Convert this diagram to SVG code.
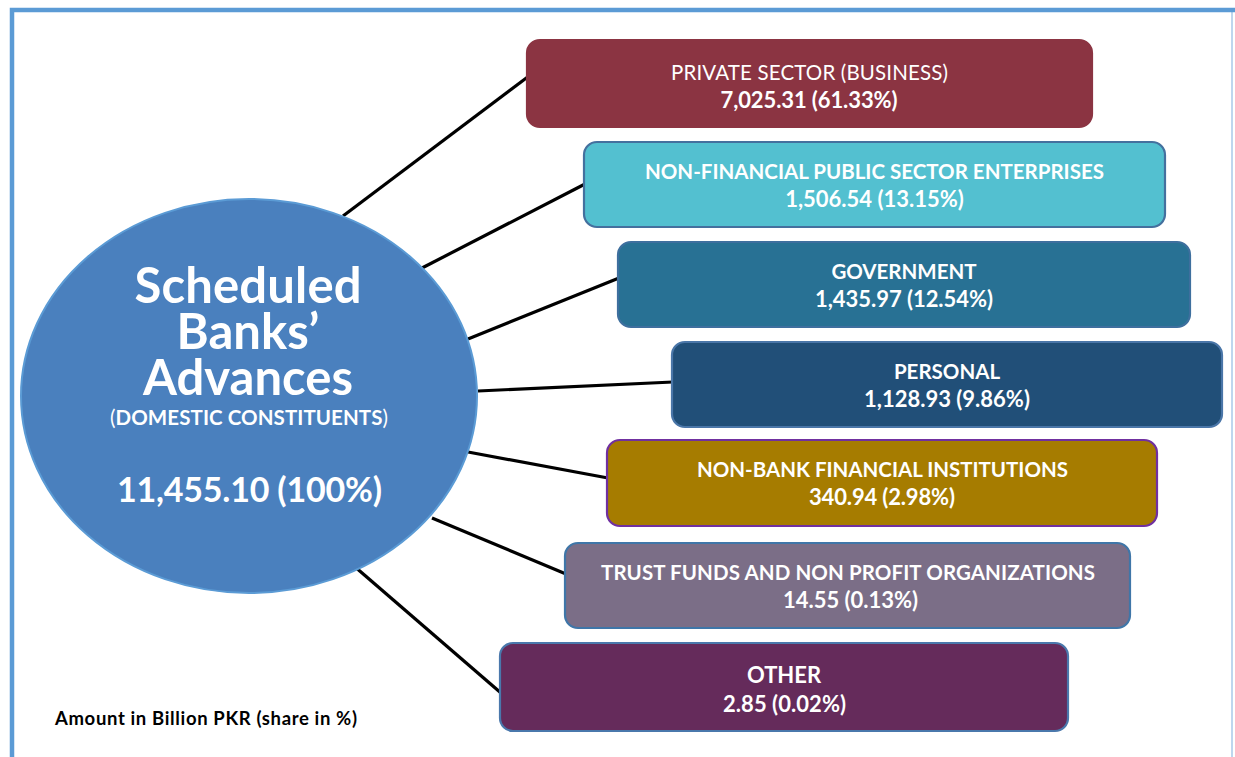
<svg xmlns="http://www.w3.org/2000/svg" width="1235" height="757" viewBox="0 0 1235 757">
<style>
  .t { font-family: Lato, "Open Sans", "Liberation Sans", sans-serif; fill: #FFFFFF; text-anchor: middle; }
  .b { font-weight: bold; }
  .lab { font-size: 20.5px; }
  .val { font-size: 22px; font-weight: bold; }
  .conn line { stroke: #000000; stroke-width: 3.2; }
  .box { stroke-width: 2.2; }
</style>
<rect x="0" y="0" width="1235" height="757" fill="#FFFFFF"/>
<g id="frame">
  <line x1="1232" y1="10" x2="1232" y2="757" stroke="#A9C8E8" stroke-width="1.5"/>
  <path d="M12 757 V10 H1235" fill="none" stroke="#5B9BD5" stroke-width="4.5"/>
</g>
<g class="conn" id="connectors">
  <line x1="343" y1="216" x2="529" y2="76"/>
  <line x1="422" y1="268" x2="585" y2="184"/>
  <line x1="468" y1="339" x2="619" y2="278"/>
  <line x1="478" y1="391" x2="673" y2="382"/>
  <line x1="468" y1="452" x2="608" y2="478"/>
  <line x1="432" y1="518" x2="566" y2="574"/>
  <line x1="354" y1="566" x2="501" y2="693"/>
</g>
<g id="center">
  <ellipse cx="249" cy="396" rx="228" ry="197" fill="#4A80BE" stroke="#5B9BD5" stroke-width="2"/>
  <text class="t b" font-size="49"><tspan x="248" y="303" textLength="227">Scheduled</tspan><tspan x="248" y="349">Banks’</tspan><tspan x="248" y="395">Advances</tspan></text>
  <text class="t" x="249" y="425" font-size="20.5" textLength="278"><tspan>(</tspan><tspan font-weight="bold">DOMESTIC CONSTITUENTS</tspan><tspan>)</tspan></text>
  <text class="t b" x="249.5" y="502" font-size="34" textLength="265">11,455.10 (100%)</text>
</g>
<g id="private">
  <rect class="box" x="527" y="40" width="565" height="87" rx="13" fill="#8B3442" stroke="#8B3442"/>
  <text class="t lab" x="809.5" y="80" textLength="277">PRIVATE SECTOR (BUSINESS)</text>
  <text class="t val" x="809" y="108" textLength="177">7,025.31 (61.33%)</text>
</g>
<g id="nfpse">
  <rect class="box" x="584" y="142" width="581" height="85" rx="13" fill="#53C0D0" stroke="#44709E"/>
  <text class="t lab b" x="874.5" y="179" textLength="459">NON-FINANCIAL PUBLIC SECTOR ENTERPRISES</text>
  <text class="t val" x="874.5" y="207" font-size="21">1,506.54 (13.15%)</text>
</g>
<g id="government">
  <rect class="box" x="618" y="242" width="572" height="85" rx="13" fill="#287194" stroke="#3E6F9E"/>
  <text class="t lab b" x="904" y="279">GOVERNMENT</text>
  <text class="t val" x="904" y="307" textLength="178">1,435.97 (12.54%)</text>
</g>
<g id="personal">
  <rect class="box" x="672" y="342" width="550" height="85" rx="13" fill="#214F78" stroke="#4A76A8"/>
  <text class="t lab b" x="947" y="379">PERSONAL</text>
  <text class="t val" x="947" y="407" font-size="20.5">1,128.93 (9.86%)</text>
</g>
<g id="nbfi">
  <rect class="box" x="607" y="440" width="550" height="86" rx="13" fill="#A67C00" stroke="#7030A0"/>
  <text class="t lab b" x="882.5" y="477" textLength="371">NON-BANK FINANCIAL INSTITUTIONS</text>
  <text class="t val" x="882" y="505" textLength="146">340.94 (2.98%)</text>
</g>
<g id="trust">
  <rect class="box" x="565" y="543" width="565" height="85" rx="13" fill="#7B6E87" stroke="#3F76A8"/>
  <text class="t lab b" x="848" y="580" textLength="494">TRUST FUNDS AND NON PROFIT ORGANIZATIONS</text>
  <text class="t val" x="850.5" y="608" textLength="135">14.55 (0.13%)</text>
</g>
<g id="other">
  <rect class="box" x="500" y="643" width="568" height="88" rx="13" fill="#652B5B" stroke="#4A78AC"/>
  <text class="t b" x="784" y="683" font-size="22">OTHER</text>
  <text class="t val" x="784.5" y="712" textLength="123">2.85 (0.02%)</text>
</g>
<g id="note">
  <text x="55" y="725" font-family="Lato, 'Open Sans', 'Liberation Sans', sans-serif" font-size="18.5" font-weight="bold" fill="#000000" textLength="302">Amount in Billion PKR (share in %)</text>
</g>
</svg>
